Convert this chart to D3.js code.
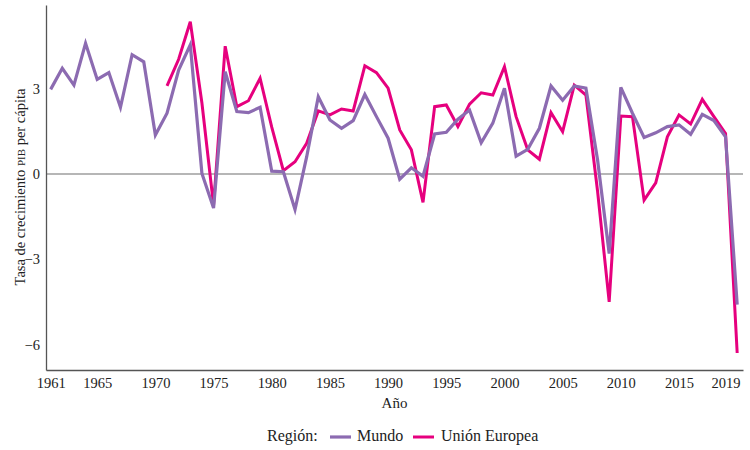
<!DOCTYPE html>
<html>
<head>
<meta charset="utf-8">
<script src="https://cdn.jsdelivr.net/npm/d3@7"></script>
<style>
  body { margin: 0; background: #fff; }
  svg text { font-family: "Liberation Serif", "DejaVu Serif", serif; fill: #222; }
</style>
</head>
<body>
<div id="chart"></div>
<script>
const years = d3.range(1961, 2021);

// Mundo, 1961-2020
const mundo = [
  2.98, 3.72, 3.13, 4.6, 3.33, 3.57, 2.35, 4.2, 3.95, 1.37,
  2.14, 3.66, 4.55, 0.02, -1.2, 3.6, 2.2, 2.16, 2.35, 0.1,
  0.08, -1.25, 0.6, 2.72, 1.9, 1.61, 1.88, 2.8, 2.02, 1.26,
  -0.18, 0.22, -0.08, 1.41, 1.47, 1.93, 2.25, 1.1, 1.79, 3.02,
  0.63, 0.87, 1.61, 3.1, 2.6, 3.1, 3.02, 0.5, -2.8, 3.05,
  2.14, 1.29, 1.45, 1.67, 1.73, 1.4, 2.1, 1.88, 1.31, -4.6
];

// Unión Europea, no data before 1971
const unionEuropea = [
  null, null, null, null, null, null, null, null, null, null,
  3.1, 4.04, 5.36, 2.5, -1.1, 4.5, 2.37, 2.58, 3.37, 1.65,
  0.12, 0.43, 1.08, 2.22, 2.08, 2.29, 2.22, 3.81, 3.57, 3.02,
  1.55, 0.85, -1.0, 2.37, 2.43, 1.67, 2.46, 2.86, 2.78, 3.78,
  2.02, 0.85, 0.52, 2.16, 1.49, 3.13, 2.78, -0.6, -4.5, 2.04,
  2.02, -0.92, -0.31, 1.31, 2.08, 1.76, 2.63, 2.02, 1.43, -6.3
];

const xTicks = [1961, 1965, 1970, 1975, 1980, 1985, 1990, 1995, 2000, 2005, 2010, 2015, 2019];
const yTicks = [-6, -3, 0, 3];

const width = 750, height = 450;
const marg = { left: 46, right: 743, top: 5, bottom: 370 };

const svg = d3.select("#chart")
  .append("svg")
  .attr("width", width)
  .attr("height", height);

const x = d3.scaleLinear()
  .domain([1960.6, 2020.5])
  .range([marg.left, marg.right]);

const y = d3.scaleLinear()
  .domain([-6.9, 5.95])
  .range([marg.bottom, marg.top]);

// zero line
svg.append("line")
  .attr("x1", marg.left)
  .attr("x2", marg.right)
  .attr("y1", y(0))
  .attr("y2", y(0))
  .attr("stroke", "#6e6e6e")
  .attr("stroke-width", 1.2);

const xAxis = svg.append("g")
  .attr("transform", `translate(0,${marg.bottom})`)
  .call(d3.axisBottom(x).tickValues(xTicks).tickFormat(d3.format("d")).tickSize(0).tickPadding(8).tickSizeOuter(0));
xAxis.select(".domain").attr("stroke", "#555").attr("stroke-width", 1.3);
xAxis.selectAll("text").style("font-size", "14.5px").style("font-family", "Liberation Serif").attr("fill", "#222");

const yAxis = svg.append("g")
  .attr("transform", `translate(${marg.left},0)`)
  .call(d3.axisLeft(y).tickValues(yTicks).tickSize(0).tickPadding(6).tickSizeOuter(0));
yAxis.select(".domain").attr("stroke", "#555").attr("stroke-width", 1.3);
yAxis.selectAll("text").style("font-size", "14.5px").style("font-family", "Liberation Serif").attr("fill", "#222");

// axis titles
svg.append("text")
  .attr("x", (marg.left + marg.right) / 2)
  .attr("y", 408)
  .attr("text-anchor", "middle")
  .style("font-size", "15px")
  .text("Año");

const yTitle = svg.append("text")
  .attr("transform", "translate(25,187) rotate(-90)")
  .attr("text-anchor", "middle")
  .style("font-size", "14.5px");
yTitle.append("tspan").text("Tasa de crecimiento ");
yTitle.append("tspan").style("font-size", "11px").text("PIB");
yTitle.append("tspan").text(" per cápita");

// lines
const colors = { mundo: "#8c6bb1", ue: "#e6007e" };

const line = d3.line()
  .defined(d => d.v !== null)
  .x(d => x(d.year))
  .y(d => y(d.v));

svg.append("path")
  .datum(years.map((yr, i) => ({ year: yr, v: unionEuropea[i] })))
  .attr("fill", "none")
  .attr("stroke", colors.ue)
  .attr("stroke-width", 3)
  .attr("stroke-linejoin", "miter")
  .attr("d", line);

svg.append("path")
  .datum(years.map((yr, i) => ({ year: yr, v: mundo[i] })))
  .attr("fill", "none")
  .attr("stroke", colors.mundo)
  .attr("stroke-width", 3.2)
  .attr("stroke-linejoin", "miter")
  .attr("d", line);

// legend
const legend = svg.append("g").attr("transform", "translate(0,441)");
legend.append("text").attr("x", 267).attr("y", 0).style("font-size", "16px").text("Región:");
legend.append("line").attr("x1", 330).attr("x2", 351).attr("y1", -4).attr("y2", -4)
  .attr("stroke", colors.mundo).attr("stroke-width", 3.2);
legend.append("text").attr("x", 357).attr("y", 0).style("font-size", "16px").text("Mundo");
legend.append("line").attr("x1", 413).attr("x2", 434).attr("y1", -4).attr("y2", -4)
  .attr("stroke", colors.ue).attr("stroke-width", 3);
legend.append("text").attr("x", 441).attr("y", 0).style("font-size", "16px").text("Unión Europea");
</script>
</body>
</html>
